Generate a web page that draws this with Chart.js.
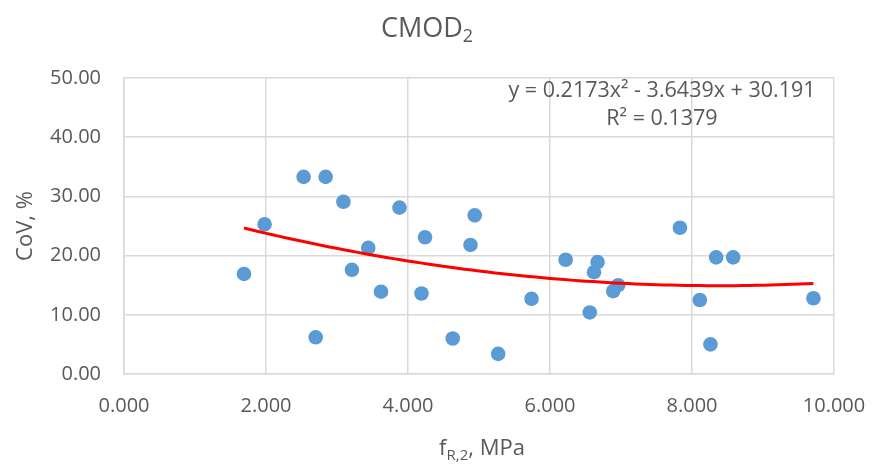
<!DOCTYPE html>
<html>
<head>
<meta charset="utf-8">
<script src="https://cdn.jsdelivr.net/npm/chart.js@4/dist/chart.umd.min.js"></script>
<style>
  html, body { margin: 0; padding: 0; background: #ffffff; }
  #wrap { width: 873px; height: 466px; }
</style>
</head>
<body>
<div id="wrap"><canvas id="chart" width="873" height="466"></canvas></div>
<script>
// Residual strength f_R,2 (MPa) and coefficient of variation (%) per specimen set
const fR2 = [1.69, 1.98, 2.53, 2.70, 2.84, 3.09, 3.21, 3.44, 3.62, 3.88, 4.19, 4.24, 4.63, 4.88,
             4.94, 5.27, 5.74, 6.22, 6.56, 6.62, 6.67, 6.89, 6.96, 7.83, 8.11, 8.26, 8.34, 8.58, 9.71];
const covPct = [16.9, 25.3, 33.3, 6.2, 33.3, 29.1, 17.6, 21.3, 13.9, 28.1, 13.6, 23.1, 6.0, 21.8,
                26.8, 3.4, 12.7, 19.3, 10.4, 17.2, 18.9, 14.0, 15.0, 24.7, 12.5, 5.0, 19.7, 19.7, 12.8];

// Polynomial trendline: y = a x^2 + b x + c
const trendCoeffs = [0.2173, -3.6439, 30.191];
const rSquared = 0.1379;

const xTicks = [0, 2, 4, 6, 8, 10];
const yTicks = [0, 10, 20, 30, 40, 50];

const TEXT = '#595959';
const FONT = '"Open Sans", "Liberation Sans", sans-serif';
const GRID = '#d9d9d9';

const points = fR2.map((x, i) => ({ x: x, y: covPct[i] }));

// sample the trendline over the span of the data
const xMin = Math.min(...fR2), xMax = Math.max(...fR2);
const trend = [];
const steps = 80;
for (let i = 0; i <= steps; i++) {
  const x = xMin + (xMax - xMin) * i / steps;
  trend.push({ x: x, y: trendCoeffs[0] * x * x + trendCoeffs[1] * x + trendCoeffs[2] });
}

const eqText = 'y = ' + trendCoeffs[0] + 'x\u00B2 - ' + Math.abs(trendCoeffs[1]) + 'x + ' + trendCoeffs[2];
const r2Text = 'R\u00B2 = ' + rSquared;

// draw a run of text pieces, some lowered as subscripts; returns total width
function runWidth(ctx, parts) {
  let w = 0;
  for (const p of parts) { ctx.font = p.size + 'px ' + FONT; w += ctx.measureText(p.t).width; }
  return w;
}
function drawRun(ctx, parts, cx, baseline) {
  let x = cx - runWidth(ctx, parts) / 2;
  for (const p of parts) {
    ctx.font = p.size + 'px ' + FONT;
    ctx.fillText(p.t, x, baseline + (p.dy || 0));
    x += ctx.measureText(p.t).width;
  }
}

const textPlugin = {
  id: 'chartTexts',
  afterDraw(chart) {
    const ctx = chart.ctx;
    const a = chart.chartArea;
    ctx.save();
    ctx.fillStyle = TEXT;
    ctx.textAlign = 'left';
    ctx.textBaseline = 'alphabetic';

    // chart title
    drawRun(ctx, [{ t: 'CMOD', size: 27 }, { t: '2', size: 18, dy: 5 }], 427, 37);

    // x-axis title
    const cxA = (a.left + a.right) / 2;
    drawRun(ctx, [{ t: 'f', size: 22 }, { t: 'R,2', size: 15, dy: 5 }, { t: ', MPa', size: 22 }], cxA + 3, 455);

    // y-axis title (rotated)
    ctx.save();
    ctx.translate(32, (a.top + a.bottom) / 2);
    ctx.rotate(-Math.PI / 2);
    drawRun(ctx, [{ t: 'CoV, %', size: 22 }], 0, 0);
    ctx.restore();

    // trendline equation
    ctx.textAlign = 'center';
    ctx.font = '21.5px ' + FONT;
    ctx.fillText(eqText, a.right - 172, 97);
    ctx.fillText(r2Text, a.right - 172, 125);
    ctx.restore();
  }
};

new Chart(document.getElementById('chart'), {
  type: 'scatter',
  data: {
    datasets: [
      {
        label: 'Poly. trend',
        data: trend,
        showLine: true,
        borderColor: '#ff0000',
        borderWidth: 3,
        pointRadius: 0,
        pointHoverRadius: 0,
        tension: 0,
        fill: false,
        order: 0
      },
      {
        label: 'CoV',
        data: points,
        backgroundColor: '#5b9bd5',
        borderColor: '#5b9bd5',
        borderWidth: 0,
        pointRadius: 7.3,
        pointHoverRadius: 7.3,
        order: 1
      }
    ]
  },
  options: {
    responsive: false,
    animation: false,
    devicePixelRatio: 1,
    layout: { padding: { left: 0, right: 39, top: 78, bottom: 0 } },
    plugins: {
      legend: { display: false },
      title: { display: false },
      tooltip: { enabled: false }
    },
    scales: {
      x: {
        type: 'linear',
        min: xTicks[0],
        max: xTicks[xTicks.length - 1],
        afterBuildTicks(scale) { scale.ticks = xTicks.map(v => ({ value: v })); },
        afterFit(scale) {
          scale.height = 92;
          // edge labels fit inside the layout padding
          scale.paddingLeft = 0;
          scale.paddingRight = 0;
        },
        ticks: {
          callback: v => Number(v).toFixed(3),
          color: TEXT,
          font: { family: FONT, size: 20 },
          padding: 20,
          maxRotation: 0
        },
        grid: { color: GRID, lineWidth: 1.5, drawTicks: false },
        border: { color: GRID, width: 1.5 }
      },
      y: {
        type: 'linear',
        min: yTicks[0],
        max: yTicks[yTicks.length - 1],
        afterBuildTicks(scale) { scale.ticks = yTicks.map(v => ({ value: v })); },
        afterFit(scale) { scale.width = 124; },
        ticks: {
          callback: v => Number(v).toFixed(2),
          color: TEXT,
          font: { family: FONT, size: 20 },
          padding: 23
        },
        grid: { color: GRID, lineWidth: 1.5, drawTicks: false },
        border: { color: GRID, width: 1.5 }
      }
    }
  },
  plugins: [textPlugin]
});
</script>
</body>
</html>
